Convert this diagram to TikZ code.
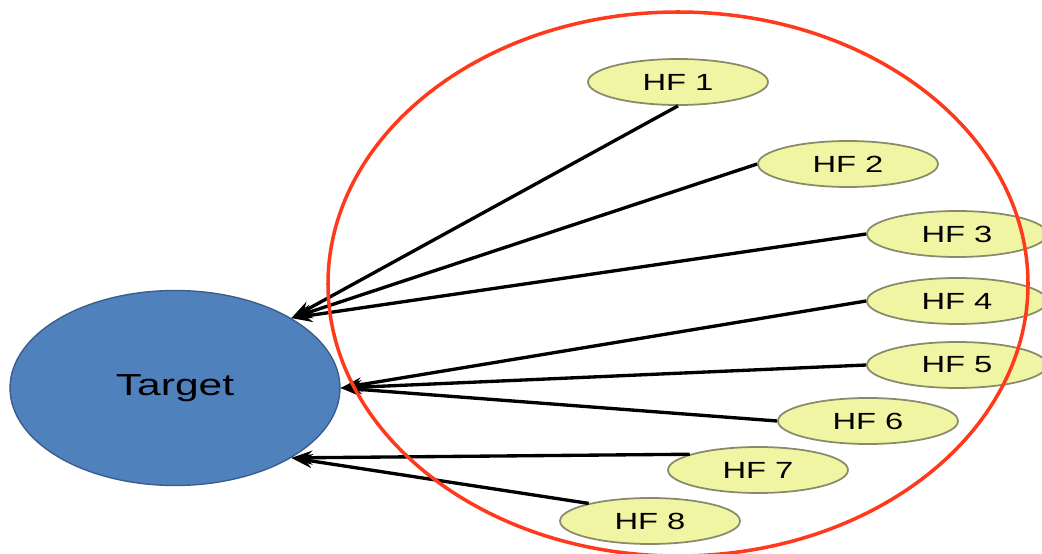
\documentclass[tikz,border=0pt]{standalone}
\usepackage{fontspec}
\setmainfont{Liberation Sans}
\usepackage{graphicx}
\usetikzlibrary{shapes.geometric,arrows.meta}
\definecolor{targetblue}{HTML}{4F81BD}
\definecolor{targetedge}{HTML}{3A5F8C}
\definecolor{hfyellow}{HTML}{EFF5A2}
\definecolor{hfedge}{HTML}{8A8A6A}
\definecolor{ringred}{HTML}{FF3A1C}
\newcommand{\wide}[1]{\scalebox{1.4}[1]{#1}}

\begin{document}
\begin{tikzpicture}[x=0.02cm,y=-0.02cm,
	hf/.style={ellipse,draw=hfedge,fill=hfyellow,line width=1pt,minimum width=3.6cm,minimum height=0.92cm,inner sep=0pt,font=\fontsize{13.3}{15}\selectfont},
	tgt/.style={ellipse,draw=targetedge,fill=targetblue,line width=0.8pt,minimum width=6.6cm,minimum height=3.9cm,inner sep=0pt,font=\fontsize{17.3}{19}\selectfont},
	link/.style={line width=1.9pt,-{Stealth[length=4.2mm,width=2.8mm]}}]
		\useasboundingbox (0,0) rectangle (1042,554);
		\clip (0,0) rectangle (1042,554);
		
		\node[tgt] (target) at (175,388) {\wide{Target}};
		
		\node[hf] (hf1) at (678,82) {\wide{HF 1}};
		\node[hf] (hf2) at (848,164) {\wide{HF 2}};
		\node[hf] (hf3) at (957,234) {\wide{HF 3}};
		\node[hf] (hf4) at (957,301) {\wide{HF 4}};
		\node[hf] (hf5) at (957,365) {\wide{HF 5}};
		\node[hf] (hf6) at (868,421) {\wide{HF 6}};
		\node[hf] (hf7) at (758,470) {\wide{HF 7}};
		\node[hf] (hf8) at (650,521) {\wide{HF 8}};
		
		\draw[link] (hf1.south) -- (target.31);
		\draw[link] (hf2.west) -- (target.31);
		\draw[link] (hf3.west) -- (target.31);
		\draw[link] (hf4.west) -- (target.east);
		\draw[link] (hf5.west) -- (target.east);
		\draw[link] (hf6.west) -- (target.east);
		\draw[link] (hf7.167) -- (target.-31);
		\draw[link] (hf8.164) -- (target.-31);
		
		% ring round the factors
		\draw[ringred,line width=2pt] (678,284) ellipse (350 and 272);
		
\end{tikzpicture}
\end{document}
